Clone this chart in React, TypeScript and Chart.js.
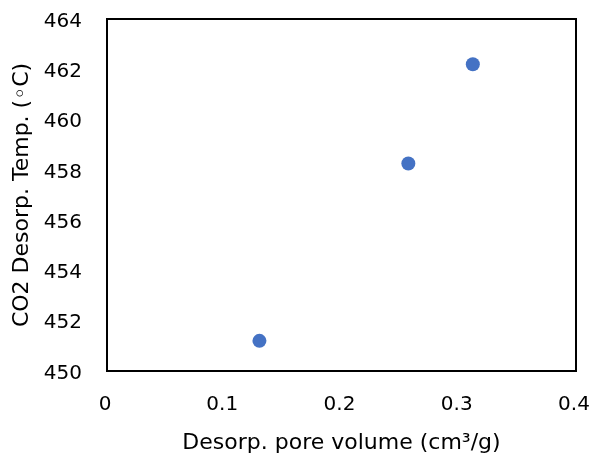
import React, { useEffect, useRef } from "react";
import { Chart, registerables } from "chart.js";

Chart.register(...registerables);

const poreVolume = [0.13, 0.257, 0.312];
const desorpTemp = [451.2, 458.25, 462.2];
const xTicks = [0, 0.1, 0.2, 0.3, 0.4];
const yTicks = [450, 452, 454, 456, 458, 460, 462, 464];

const FONT = "'DejaVu Sans', sans-serif";

const framePlugin = {
  id: "frame",
  afterDraw(chart: any) {
    const { ctx, chartArea } = chart;
    ctx.save();
    ctx.strokeStyle = "#000";
    ctx.lineWidth = 2;
    ctx.strokeRect(chartArea.left, chartArea.top, chartArea.right - chartArea.left, chartArea.bottom - chartArea.top);
    ctx.restore();
  },
};

export default function App() {
  const ref = useRef<HTMLCanvasElement>(null);
  useEffect(() => {
    document.body.style.margin = "0";
    const chart = new Chart(ref.current!, {
      type: "scatter",
      data: {
        datasets: [
          {
            data: poreVolume.map((x, i) => ({ x, y: desorpTemp[i] })),
            backgroundColor: "#4472C4",
            borderColor: "#4472C4",
            pointRadius: 7,
            pointHoverRadius: 7,
            borderWidth: 0,
          },
        ],
      },
      options: {
        animation: false,
        responsive: false,
        layout: { padding: { top: 19, right: 18, left: 0, bottom: 0 } },
        plugins: { legend: { display: false }, tooltip: { enabled: false } },
        scales: {
          x: {
            type: "linear",
            min: 0,
            max: 0.4,
            afterBuildTicks: (s: any) => {
              s.ticks = xTicks.map((v) => ({ value: v }));
            },
            afterFit: (s: any) => {
              s.height = 88;
              s.paddingLeft = 0;
              s.paddingRight = 0;
            },
            grid: { display: false, drawTicks: false },
            border: { display: false },
            ticks: {
              color: "#000",
              font: { family: FONT, size: 20 },
              padding: 22,
              labelOffset: -2,
              maxRotation: 0,
              callback: (v: any) => String(v),
            },
            title: {
              display: true,
              text: "Desorp. pore volume (cm³/g)",
              color: "#000",
              font: { family: FONT, size: 22 },
              padding: { top: 0, bottom: 3 },
            },
          },
          y: {
            type: "linear",
            min: 450,
            max: 464,
            afterBuildTicks: (s: any) => {
              s.ticks = yTicks.map((v) => ({ value: v }));
            },
            afterFit: (s: any) => {
              s.width = 107;
              s.paddingTop = 0;
              s.paddingBottom = 0;
            },
            grid: { display: false, drawTicks: false },
            border: { display: false },
            ticks: {
              color: "#000",
              font: { family: FONT, size: 20 },
              padding: 25,
              labelOffset: 2.5,
            },
            title: {
              display: true,
              text: "CO2 Desorp. Temp. (◦C)",
              color: "#000",
              font: { family: FONT, size: 22 },
              padding: { top: 9, bottom: 0 },
            },
          },
        },
      },
      plugins: [framePlugin],
    });
    return () => chart.destroy();
  }, []);
  return (
    <div style={{ width: 594, height: 459 }}>
      <canvas ref={ref} width={594} height={459} style={{ display: "block" }} />
    </div>
  );
}
